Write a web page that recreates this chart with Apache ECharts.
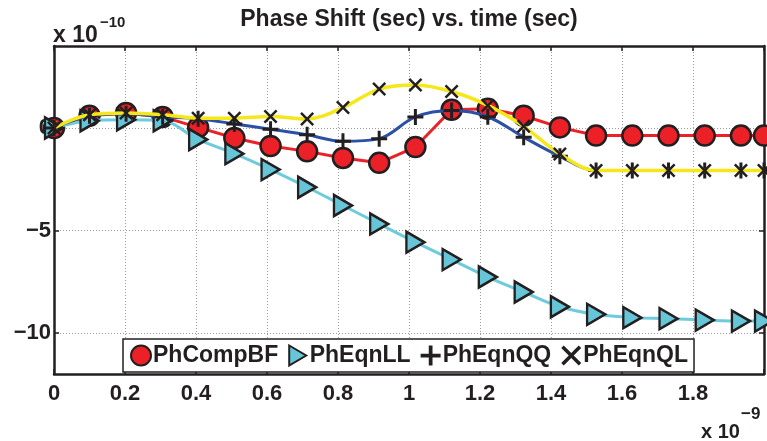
<!DOCTYPE html>
<html>
<head>
<meta charset="utf-8">
<script src="https://cdn.jsdelivr.net/npm/echarts@6/dist/echarts.min.js"></script>
<style>
  html, body { margin: 0; padding: 0; background: #fff; }
  #chart { width: 767px; height: 441px; }
</style>
</head>
<body>
<div id="chart"></div>
<script>
// Sample times (units of 1e-9 s)
const times = [0, 0.1, 0.203, 0.306, 0.406, 0.508, 0.61, 0.713, 0.814, 0.916, 1.018,
               1.12, 1.222, 1.323, 1.425, 1.527, 1.629, 1.731, 1.833, 1.935, 2.0];

// Phase shift per method (units of 1e-10 s)
const phCompBF = [0, 0.6, 0.73, 0.54, 0.03, -0.49, -0.88, -1.14, -1.46, -1.7, -0.93,
                  0.89, 0.94, 0.6, 0.03, -0.37, -0.37, -0.37, -0.37, -0.37, -0.37];
const phEqnLL  = [0, 0.35, 0.4, 0.35, -0.56, -1.25, -2.03, -2.89, -3.78, -4.68, -5.57,
                  -6.42, -7.27, -8.0, -8.72, -9.09, -9.25, -9.3, -9.37, -9.42, -9.42];
const phEqnQQ  = [0, 0.6, 0.7, 0.55, 0.45, 0.2, -0.06, -0.33, -0.65, -0.52, 0.54,
                  0.85, 0.55, -0.45, -1.38, -2.07, -2.07, -2.07, -2.07, -2.07, -2.07];
const phEqnQL  = [0, 0.65, 0.73, 0.65, 0.48, 0.48, 0.56, 0.44, 1.0, 1.9, 2.1,
                  1.78, 1.1, 0.08, -1.27, -2.07, -2.07, -2.07, -2.07, -2.07, -2.07];

// Axis ticks
const xTicks = [0, 0.2, 0.4, 0.6, 0.8, 1, 1.2, 1.4, 1.6, 1.8];
const yTicks = [0, -5, -10];

const seriesNames = ['PhCompBF', 'PhEqnLL', 'PhEqnQQ', 'PhEqnQL'];

const FONT = '"Liberation Sans", Arial, Helvetica, sans-serif';
const INK = '#231f20';

// Marker shapes
const triRight = 'path://M0,0L17,10L0,20Z';
const plusPath = 'path://M6.5,0h3v6.5h6.5v3h-6.5v6.5h-3v-6.5h-6.5v-3h6.5z';
const crossPath = 'path://M0,1.5L1.5,0L6,4.5L10.5,0L12,1.5L7.5,6L12,10.5L10.5,12L6,7.5L1.5,12L0,10.5L4.5,6Z';

const pairs = vals => times.map((t, i) => [t, vals[i]]);
const fmtX = v => (v > 1.99 ? '' : String(+v.toFixed(1)));
const fmtY = v => String(v).replace('-', '\u2212');

const chart = echarts.init(document.getElementById('chart'), null, { renderer: 'canvas' });

const gridLine = { show: true, lineStyle: { color: '#9c9c9c', type: [1, 2], width: 1 } };
const axisLine = { show: true, onZero: false, lineStyle: { color: INK, width: 2.5 } };
const tickLabel = { fontFamily: FONT, fontWeight: 'bold', fontSize: 22, color: INK };

chart.setOption({
  animation: false,
  backgroundColor: '#fff',
  grid: { left: 54, right: 2, top: 46, bottom: 67, containLabel: false },
  xAxis: [
    {
      type: 'value', min: 0, max: 2, interval: 0.2, position: 'bottom',
      axisLine: axisLine,
      axisTick: { show: true, inside: true, length: 5, lineStyle: { color: INK, width: 1.5 } },
      axisLabel: Object.assign({ margin: 9, formatter: fmtX, showMaxLabel: true }, tickLabel),
      splitLine: gridLine
    },
    {
      type: 'value', min: 0, max: 2, interval: 0.2, position: 'top',
      axisLine: axisLine,
      axisTick: { show: true, inside: true, length: 5, lineStyle: { color: INK, width: 1.5 } },
      axisLabel: { show: false },
      splitLine: { show: false }
    }
  ],
  yAxis: [
    {
      type: 'value', min: -12, max: 4, position: 'left',
      axisLine: axisLine,
      axisTick: { show: true, inside: true, length: 5, customValues: yTicks, lineStyle: { color: INK, width: 1.5 } },
      axisLabel: Object.assign({ margin: 3, customValues: yTicks, formatter: fmtY }, tickLabel),
      splitLine: gridLine
    },
    {
      type: 'value', min: -12, max: 4, position: 'right',
      axisLine: axisLine,
      axisTick: { show: true, inside: true, length: 5, customValues: yTicks, lineStyle: { color: INK, width: 1.5 } },
      axisLabel: { show: false },
      splitLine: { show: false }
    }
  ],
  legend: {
    left: 123, top: 339,
    orient: 'horizontal',
    itemWidth: 20, itemHeight: 20, itemGap: 10,
    padding: [5, 6, 5, 7],
    backgroundColor: '#fff',
    borderColor: INK, borderWidth: 1.5, borderRadius: 0,
    selectedMode: false,
    textStyle: { fontFamily: FONT, fontWeight: 'bold', fontSize: 23, color: INK, padding: [0, 0, 0, -3] },
    data: [
      { name: seriesNames[0], icon: 'circle' },
      { name: seriesNames[1], icon: triRight },
      { name: seriesNames[2], icon: plusPath },
      { name: seriesNames[3], icon: crossPath }
    ],
    z: 20
  },
  graphic: [
    { type: 'text', x: 409, y: 20, z: 10,
      style: { text: 'Phase Shift (sec) vs. time (sec)', fill: INK, align: 'center', verticalAlign: 'middle',
               fontFamily: FONT, fontWeight: 'bold', fontSize: 23 } },
    { type: 'text', x: 53, y: 36, z: 10,
      style: { text: 'x 10', fill: INK, align: 'left', verticalAlign: 'middle',
               fontFamily: FONT, fontWeight: 'bold', fontSize: 23 } },
    { type: 'text', x: 100, y: 23, z: 10,
      style: { text: '\u221210', fill: INK, align: 'left', verticalAlign: 'middle',
               fontFamily: FONT, fontWeight: 'bold', fontSize: 15 } },
    { type: 'text', x: 701, y: 432, z: 10,
      style: { text: 'x 10', fill: INK, align: 'left', verticalAlign: 'middle',
               fontFamily: FONT, fontWeight: 'bold', fontSize: 20 } },
    { type: 'text', x: 741, y: 414, z: 10,
      style: { text: '\u22129', fill: INK, align: 'left', verticalAlign: 'middle',
               fontFamily: FONT, fontWeight: 'bold', fontSize: 17 } }
  ],
  series: [
    {
      name: seriesNames[0], type: 'line', data: pairs(phCompBF),
      smooth: false,
      symbol: 'circle', symbolSize: 20,
      lineStyle: { color: '#ec2027', width: 3 },
      itemStyle: { color: '#ec2027', borderColor: INK, borderWidth: 2.5 },
      z: 2
    },
    {
      name: seriesNames[1], type: 'line', data: pairs(phEqnLL),
      smooth: 0.35,
      symbol: triRight, symbolSize: [18, 21],
      lineStyle: { color: '#6dcbdc', width: 3 },
      itemStyle: { color: '#66c6d8', borderColor: INK, borderWidth: 2.5 },
      z: 3
    },
    {
      name: seriesNames[2], type: 'line', data: pairs(phEqnQQ),
      smooth: 0.35,
      symbol: plusPath, symbolSize: 16,
      lineStyle: { color: '#2c50a3', width: 3 },
      itemStyle: { color: INK, borderWidth: 0 },
      z: 4
    },
    {
      name: seriesNames[3], type: 'line', data: pairs(phEqnQL),
      smooth: 0.35,
      symbol: crossPath, symbolSize: 14,
      lineStyle: { color: '#f5e71a', width: 3.5 },
      itemStyle: { color: INK, borderWidth: 0 },
      z: 5
    }
  ]
});
</script>
</body>
</html>
